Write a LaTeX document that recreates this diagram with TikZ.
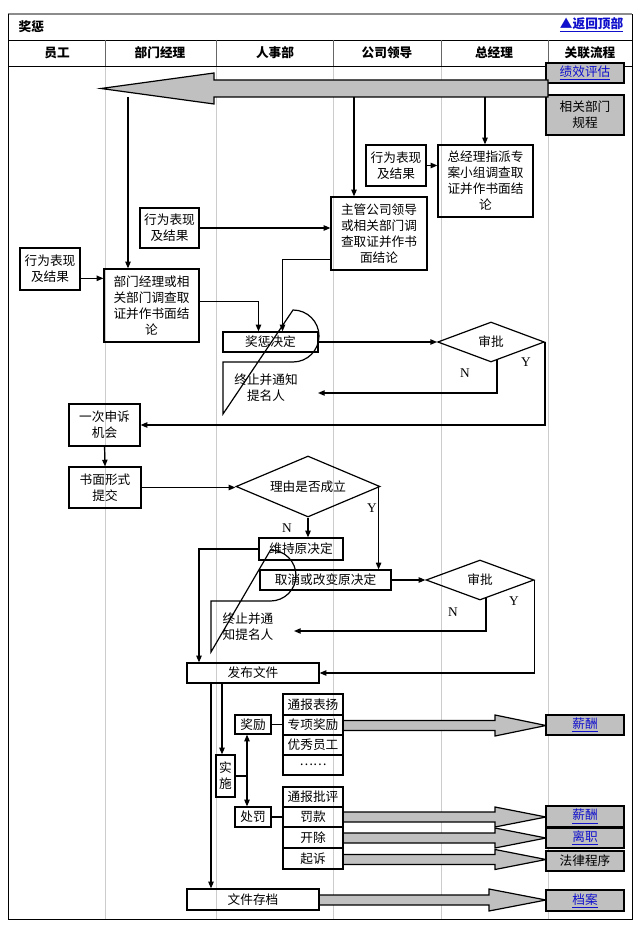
\documentclass[tikz,border=0pt]{standalone}
\usepackage{fontspec}
\setmainfont{Noto Sans CJK SC}
\newfontfamily\lat{Liberation Serif}
\usetikzlibrary{arrows.meta,shapes.geometric}
\definecolor{gfill}{HTML}{C0C0C0}
\definecolor{lnk}{HTML}{1010CC}
\tikzset{
  box/.style={draw,line width=0.9pt,inner sep=0pt,align=center,font=\fontsize{9.5}{12}\selectfont},
  gbox/.style={box,fill=gfill},
  dia/.style={draw,line width=0.9pt,diamond,aspect=2.6,inner sep=0pt,font=\fontsize{9.5}{12}\selectfont},
  arr/.style={line width=0.9pt,-{Triangle[length=5pt,width=4pt]}},
  ln/.style={line width=0.9pt},
  lane/.style={draw=black!20,line width=0.6pt},
  yn/.style={font=\lat\fontsize{10}{12}\selectfont},
  garr/.style={draw,line width=0.9pt,fill=gfill},
  lk/.style={text=lnk},
}
\newcommand\mybox[7][box]{%
  \pgfmathsetmacro\ww{(#5-#3)*0.75}\pgfmathsetmacro\hh{(#6-#4)*0.75}%
  \node[#1,minimum width=\ww pt,minimum height=\hh pt] (#2) at ({(#3+#5)/2},{(#4+#6)/2}) {#7};}
\newcommand\garrow[6]{% x1 xtip xbase yc halfshaft halfhead
  \path[garr] (#1,{#4-#5}) -- (#3,{#4-#5}) -- (#3,{#4-#6}) -- (#2,#4) -- (#3,{#4+#6}) -- (#3,{#4+#5}) -- (#1,{#4+#5}) -- cycle;}
\newcommand\term[5]{% name x1 y1 x2 y2 ; right side rounded
  \pgfmathsetmacro\rx{(#5-#3)/2}\pgfmathsetmacro\xm{#4-\rx}%
  \draw[ln] (#2,#3) -- (\xm,#3) arc[start angle=90,end angle=-90,x radius=\rx,y radius=\rx] -- (#2,#5) -- cycle;}
\begin{document}
\begin{tikzpicture}[x=0.75pt,y=-0.75pt]
\useasboundingbox (0,0) rectangle (640,930);
\fill[white] (0,0) rectangle (640,930);
% frame
\foreach \x in {105,216,333,441,548} \draw[lane] (\x,66) -- (\x,919);
\draw[line width=1.2pt,black!45] (8,14) -- (632,14);
\draw[line width=0.7pt] (8,14) -- (8,919) -- (632,919) -- (632,14);
\draw[line width=0.7pt] (8,40) -- (632,40);
\draw[line width=0.7pt] (8,66) -- (632,66);
\foreach \x in {105,216,333,441,548} \draw[line width=0.6pt,black!60] (\x,40) -- (\x,66);
\node[anchor=west,font=\bfseries\fontsize{9.5}{12}\selectfont] (ttl) at (14,27) {奖惩};
\node[anchor=east,lk,font=\bfseries\fontsize{9.5}{12}\selectfont] (top) at (628,25) {\underline{▲返回顶部}};
\foreach \x/\t [count=\i] in {57/员工,160/部门经理,275/人事部,387/公司领导,494/总经理,590/关联流程}
  \node[font=\bfseries\fontsize{9.5}{12}\selectfont] (h\i) at (\x,53) {\t};
% right column
\mybox[gbox]{p1}{546}{63}{624}{83}{\textcolor{lnk}{\underline{绩效评估}}}
\mybox[gbox]{p2}{546}{95}{624}{135}{相关部门\\规程}
\garrow{548}{101}{214}{88.5}{8.5}{15.5}
% upper boxes
\mybox{b3}{366}{145}{426}{186}{行为表现\\及结果}
\mybox{g1}{438}{145}{533}{217}{总经理指派专\\案小组调查取\\证并作书面结\\论}
\mybox{b2}{140}{208}{199}{248}{行为表现\\及结果}
\mybox{m1}{331}{197}{427}{270}{主管公司领导\\或相关部门调\\查取证并作书\\面结论}
\mybox{e1}{20}{248}{80}{290}{行为表现\\及结果}
\mybox{d1}{104}{269}{199}{342}{部门经理或相\\关部门调查取\\证并作书面结\\论}
\coordinate (c1) at (128,97);
\coordinate (c2) at (354,97);
\coordinate (c3) at (485,97);
\draw[arr] (c1) -- (c1 |- d1.north);
\draw[arr] (c2) -- (c2 |- m1.north);
\draw[arr] (c3) -- (c3 |- g1.north);
\draw[arr] ([yshift=-7pt]e1.east) -- ([yshift=-7pt]e1.east -| d1.west);
\draw[arr] (b2.east) -- (b2.east -| m1.west);
\draw[arr] (b3.east) -- (b3.east -| g1.west);
\mybox{jc}{223}{332}{318}{352}{奖惩决定}
\draw[arr] ([yshift=3pt]d1.east) -| ([xshift=-9pt]jc.north);
\draw[arr] ([yshift=-19.5pt]m1.west) -| ([xshift=9pt]jc.north);
\node[dia,minimum width=80pt,minimum height=30pt] (s1) at (491,342) {审批};
\draw[arr] (jc.east) -- (s1.west);
\term{t1}{223}{362}{319}{414}
\node[font=\fontsize{9.5}{12}\selectfont,align=center] (t1t) at (266,388) {终止并通知\\提名人};
\coordinate (t1e) at (318,393);
\coordinate (n1) at (497,360);
\draw[arr] (n1) |- (t1e);
\node[yn] (ln1) at (465,373) {N};
\node[yn] (ly1) at (526,362) {Y};
\mybox{a1}{69}{404}{140}{446}{一次申诉\\机会}
\draw[arr] (s1.east) |- (a1.east);
\mybox{b4}{69}{467}{141}{508}{书面形式\\提交}
\draw[arr] (a1.south) -- (b4.north);
\node[dia,aspect=2.36,minimum width=108pt,minimum height=45.75pt] (s2) at (308,486.5) {理由是否\\成立};
\draw[arr] (b4.east) -- (b4.east -| s2.west);
\mybox{k1}{259}{538}{343}{560}{维持原决定}
\mybox{q1}{260}{570}{391}{590}{取消或改变原决定}
\draw[arr] (s2.south) -- (s2.south |- k1.north);
\node[yn] (ln2) at (287,528) {N};
\draw[arr] ([xshift=-1.5pt]s2.east) -- ([xshift=-1.5pt]s2.east |- q1.north);
\node[yn] (ly2) at (372,508) {Y};
\node[dia,minimum width=81pt,minimum height=30pt] (s3) at (480,580) {审批};
\draw[arr] (q1.east) -- (s3.west);
\term{t2}{211}{601}{296}{652}
\node[font=\fontsize{9.5}{12}\selectfont,align=center] (t2t) at (248,626.5) {终止并通\\知提名人};
\coordinate (t2e) at (294,631);
\coordinate (n2) at (486,598);
\draw[arr] (n2) |- (t2e);
\node[yn] (ln3) at (453,612) {N};
\node[yn] (ly3) at (514,601) {Y};
\mybox{pub}{187}{663}{319}{683}{发布文件}
\draw[arr] (s3.east) |- (pub.east);
\draw[arr] (k1.west) -| ([xshift=-40.5pt]pub.north);
% implementation
\garrow{343}{546}{495}{725.5}{5}{10.5}
\garrow{343}{546}{495}{817}{5}{10}
\garrow{343}{546}{495}{838}{5}{10}
\garrow{343}{546}{495}{859.5}{5}{10}
\garrow{319}{546}{489}{900}{5}{11}
\mybox[gbox]{x1}{546}{715}{624}{735}{\textcolor{lnk}{\underline{薪酬}}}
\mybox[gbox]{x2}{546}{806}{624}{827}{\textcolor{lnk}{\underline{薪酬}}}
\mybox[gbox]{x3}{546}{828}{624}{848}{\textcolor{lnk}{\underline{离职}}}
\mybox[gbox]{x4}{546}{851}{624}{871}{法律程序}
\mybox[gbox]{x5}{546}{890}{624}{911}{\textcolor{lnk}{\underline{档案}}}
\mybox{ar}{187}{889}{319}{910}{文件存档}
\mybox{ss}{216}{755}{235}{797}{实\\施}
\mybox{rw}{235}{715}{271}{734}{奖励}
\mybox{pn}{235}{807}{271}{827}{处罚}
\mybox{r1}{283}{694}{343}{715}{通报表扬}
\mybox{r2}{283}{715}{343}{735}{专项奖励}
\mybox{r3}{283}{735}{343}{755}{优秀员工}
\mybox{r4}{283}{755}{343}{775}{……}
\mybox{q2}{283}{787}{343}{807}{通报批评}
\mybox{q3}{283}{807}{343}{827}{罚款}
\mybox{q4}{283}{827}{343}{848}{开除}
\mybox{q5}{283}{848}{343}{869}{起诉}
\draw[arr] ([xshift=-31.5pt]pub.south) -- ([xshift=-31.5pt]pub.south |- ar.north);
\draw[arr] ([xshift=-23.25pt]pub.south) -- ([xshift=-23.25pt]pub.south |- ss.north);
\coordinate (j1) at (247,776);
\draw[ln] (ss.east) -- (ss.east -| j1);
\draw[line width=0.9pt,{Triangle[length=5pt,width=4pt]}-{Triangle[length=5pt,width=4pt]}] (j1 |- rw.south) -- (j1 |- pn.north);
\draw[ln] (rw.east) -- (rw.east -| r2.west);
\draw[ln] (pn.east) -- (pn.east -| q3.west);
\end{tikzpicture}
\end{document}
